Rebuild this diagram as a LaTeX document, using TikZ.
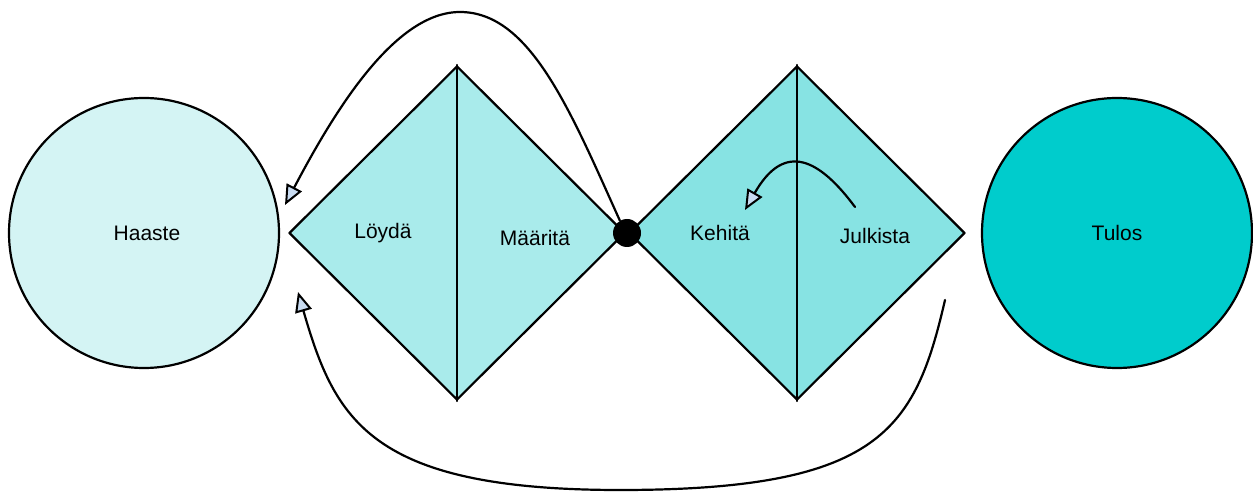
\documentclass[tikz,border=0pt]{standalone}
\usepackage{fontspec}
\setmainfont{Liberation Sans}
\usetikzlibrary{shapes.geometric, arrows.meta}
\begin{document}
\begin{tikzpicture}[x=1pt, y=-1pt, font=\fontsize{21}{25}\selectfont, line join=round, line cap=round, >={Triangle[length=20pt, width=17pt, fill=tipcolor, line width=2pt]}]
			\definecolor{startcolor}{HTML}{D4F4F4}
			\definecolor{leftcolor}{HTML}{A9EBEB}
			\definecolor{rightcolor}{HTML}{87E3E3}
			\definecolor{endcolor}{HTML}{00CCCC}
			\definecolor{tipcolor}{HTML}{C9DCF2}
			\tikzset{
				ball/.style={circle, draw, line width=2.2pt, minimum size=270pt, inner sep=0pt},
				halfdiamond/.style={diamond, draw, line width=2.2pt, minimum width=336pt, minimum height=334pt, inner sep=0pt},
				loop/.style={->, line width=2.2pt}
			}
			\useasboundingbox (0,0) rectangle (1253,494);
			% circles at both ends
			\node[ball, fill=startcolor] (haaste) at (144,233) {};
			\node[ball, fill=endcolor] (tulos) at (1117,233) {};
			% the two diamonds, split down the middle
			\node[halfdiamond, fill=leftcolor] (left) at (457,233) {};
			\node[halfdiamond, fill=rightcolor] (right) at (797,233) {};
			\draw[line width=2.2pt] (left.north) -- (left.south);
			\draw[line width=2.2pt] (right.north) -- (right.south);
			\node[circle, fill=black, minimum size=28pt, inner sep=0pt] (dot) at (627,233) {};
			% texts
			\node (haastelabel) at (147,233) {Haaste};
			\node (tuloslabel) at (1117,233) {Tulos};
			\node (loyda) at (383,233) {Löydä};
			\node (maarita) at (535,238) {Määritä};
			\node (kehita) at (720,233) {Kehitä};
			\node (julkista) at (875,236) {Julkista};
			% loops back to the start
			\coordinate (A) at (285,205);
			\coordinate (B) at (945,300);
			\coordinate (C) at (298,292);
			\coordinate (D) at (855,207);
			\coordinate (E) at (745,210);
			\draw[loop] (dot.120) .. controls (570,110) and (530,12) .. (460,12) .. controls (395,12) and (335,110) .. (A);
			\draw[loop] (B) .. controls (915,430) and (880,490) .. (620,490) .. controls (370,490) and (335,420) .. (C);
			\draw[loop] (D) .. controls (820,160) and (785,140) .. (E);
	\end{tikzpicture}
\end{document}
